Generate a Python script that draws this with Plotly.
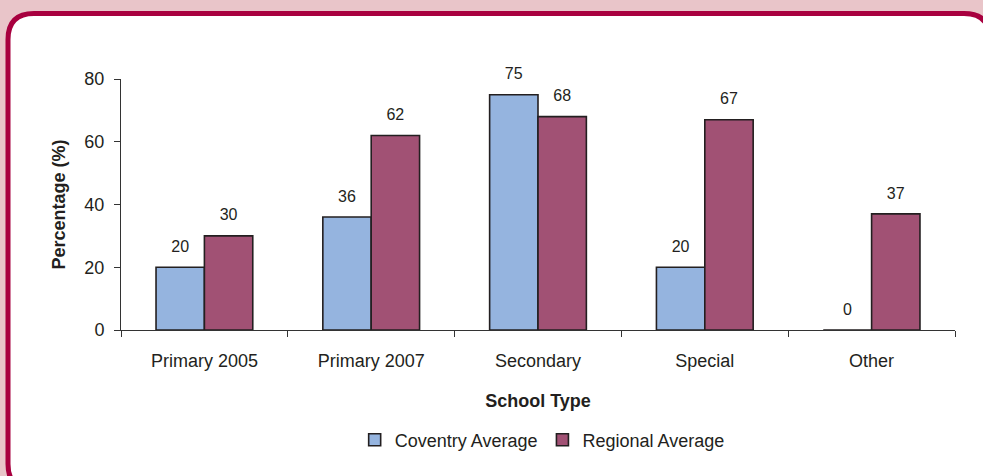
import plotly.graph_objects as go

categories = ["Primary 2005", "Primary 2007", "Secondary", "Special", "Other"]
coventry = [20, 36, 75, 20, 0]
regional = [30, 62, 68, 67, 37]
series_names = ["Coventry Average", "Regional Average"]
y_ticks = [0, 20, 40, 60, 80]

W, H = 983, 476
L, R, T, B = 121, 28, 79, 146
pw, ph = W - L - R, H - T - B

def px_x(x):
    return (x - L) / pw

def px_y(y):
    return (H - B - y) / ph

FONT = "Liberation Sans, Arial, sans-serif"

def lbl(vals):
    return [f"<span style='font-size:16px'>{v}</span><br> " for v in vals]

fig = go.Figure()
fig.add_trace(go.Bar(
    x=categories, y=coventry, name=series_names[0],
    marker=dict(color="#95b4df", line=dict(color="#231f20", width=1.6)),
    text=lbl(coventry), textposition="outside", cliponaxis=False,
    textfont=dict(size=8, color="#231f20", family=FONT),
))
fig.add_trace(go.Bar(
    x=categories, y=regional, name=series_names[1],
    marker=dict(color="#a15174", line=dict(color="#231f20", width=1.6)),
    text=lbl(regional), textposition="outside", cliponaxis=False,
    textfont=dict(size=8, color="#231f20", family=FONT),
))

# rounded white panel with crimson border
x0, x1 = 8, 990
y0, y1 = 13.5, 490
r = 26
path = (
    f"M {px_x(x0 + r)} {px_y(y0)} L {px_x(x1 - r)} {px_y(y0)} "
    f"Q {px_x(x1)} {px_y(y0)} {px_x(x1)} {px_y(y0 + r)} "
    f"L {px_x(x1)} {px_y(y1 - r)} Q {px_x(x1)} {px_y(y1)} {px_x(x1 - r)} {px_y(y1)} "
    f"L {px_x(x0 + r)} {px_y(y1)} Q {px_x(x0)} {px_y(y1)} {px_x(x0)} {px_y(y1 - r)} "
    f"L {px_x(x0)} {px_y(y0 + r)} Q {px_x(x0)} {px_y(y0)} {px_x(x0 + r)} {px_y(y0)} Z"
)
fig.add_shape(type="path", path=path, xref="paper", yref="paper",
              fillcolor="white", line=dict(color="#a8003f", width=5), layer="below")

fig.update_layout(
    width=W, height=H, autosize=False,
    margin=dict(l=L, r=R, t=T, b=B),
    paper_bgcolor="#e9c5c9", plot_bgcolor="rgba(0,0,0,0)",
    barmode="group", bargap=0.42, bargroupgap=0,
    font=dict(family=FONT, size=18, color="#231f20"),
    showlegend=True,
    legend=dict(orientation="h", x=0.505, xanchor="center", y=px_y(440), yanchor="middle",
                font=dict(size=18), itemwidth=30, tracegroupgap=0, bgcolor="rgba(0,0,0,0)"),
    xaxis=dict(
        showline=True, linecolor="#333", linewidth=1, ticks="outside", ticklen=6,
        tickcolor="#333", tickson="boundaries", showgrid=False,
        tickfont=dict(size=18), ticklabelstandoff=14,
        title=dict(text="<b>School Type</b>", font=dict(size=18), standoff=24),
    ),
    yaxis=dict(
        range=[0, 80], tickvals=y_ticks, showline=True, linecolor="#333", linewidth=1,
        ticks="outside", ticklen=6, tickcolor="#333", showgrid=False, zeroline=False,
        tickfont=dict(size=18), ticklabelstandoff=6,
        title=dict(text="<b>Percentage (%)</b>", font=dict(size=18), standoff=14),
    ),
)

fig.write_html("out.html", config={"displayModeBar": False},
               post_script="document.body.style.margin='0';document.body.style.padding='0';")
